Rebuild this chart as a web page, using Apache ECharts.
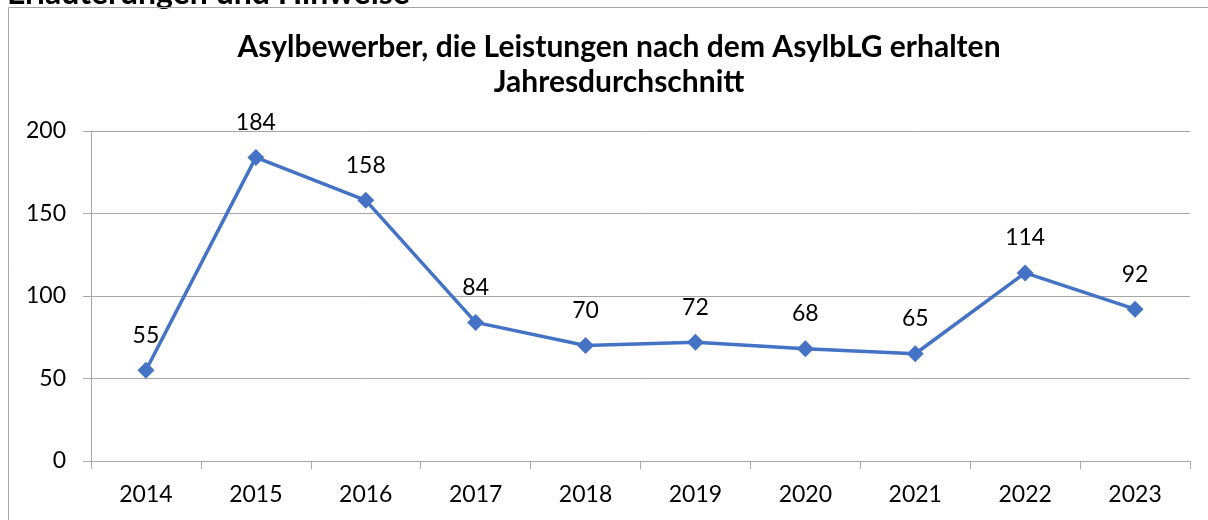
<!DOCTYPE html>
<html>
<head>
<meta charset="utf-8">
<script src="https://cdn.jsdelivr.net/npm/echarts@6/dist/echarts.min.js"></script>
<style>
  html, body { margin: 0; padding: 0; background: #fff; }
  #chart { width: 1208px; height: 520px; }
</style>
</head>
<body>
<div id="chart"></div>
<script>
// Jahresdurchschnitt der Asylbewerber mit Leistungen nach dem AsylbLG
const years = ['2014', '2015', '2016', '2017', '2018', '2019', '2020', '2021', '2022', '2023'];
const recipients = [55, 184, 158, 84, 70, 72, 68, 65, 114, 92];
const yTicks = { min: 0, max: 200, step: 50 };

const titleLines = ['Asylbewerber, die Leistungen nach dem AsylbLG erhalten', 'Jahresdurchschnitt'];
const headerText = 'Erläuterungen und Hinweise';

const chart = echarts.init(document.getElementById('chart'), null, { renderer: 'canvas' });
const gray = '#a6a6a6';
const font = 'Lato, "Open Sans", sans-serif';

chart.setOption({
  animation: false,
  backgroundColor: '#fff',
  graphic: [
    {
      type: 'text', left: 7, top: -22,
      style: { text: headerText, font: 'bold 32px ' + font, fill: '#000' }
    },
    {
      type: 'polyline', silent: true,
      shape: { points: [[8.5, 530], [8.5, 7.5], [1220, 7.5]] },
      style: { stroke: gray, lineWidth: 1, fill: null }
    }
  ],
  title: {
    text: titleLines.join('\n'),
    left: 614,
    textAlign: 'center',
    top: 25,
    textStyle: { fontFamily: font, fontWeight: 'bold', fontSize: 30, lineHeight: 35, color: '#000' }
  },
  grid: { left: 91, right: 18, top: 131, bottom: 59, containLabel: false },
  xAxis: {
    type: 'category',
    data: years,
    boundaryGap: true,
    axisLine: { lineStyle: { color: gray, width: 1 } },
    axisTick: { show: true, length: 8, lineStyle: { color: gray } },
    axisLabel: { fontFamily: font, fontSize: 23, color: '#000', margin: 22 }
  },
  yAxis: {
    type: 'value',
    min: yTicks.min, max: yTicks.max, interval: yTicks.step,
    axisLine: { show: true, lineStyle: { color: gray, width: 1 } },
    axisTick: { show: true, length: 8, lineStyle: { color: gray } },
    axisLabel: { fontFamily: font, fontSize: 23, color: '#000', margin: 25 },
    splitLine: { show: true, lineStyle: { color: gray, width: 1 } }
  },
  series: [{
    type: 'line',
    data: recipients,
    symbol: 'diamond',
    symbolSize: 17,
    itemStyle: { color: '#4472c4' },
    lineStyle: { color: '#4472c4', width: 3.5 },
    label: {
      show: true, position: 'top', distance: 15,
      fontFamily: font, fontSize: 23, color: '#000'
    },
    z: 3
  }]
});
</script>
</body>
</html>
